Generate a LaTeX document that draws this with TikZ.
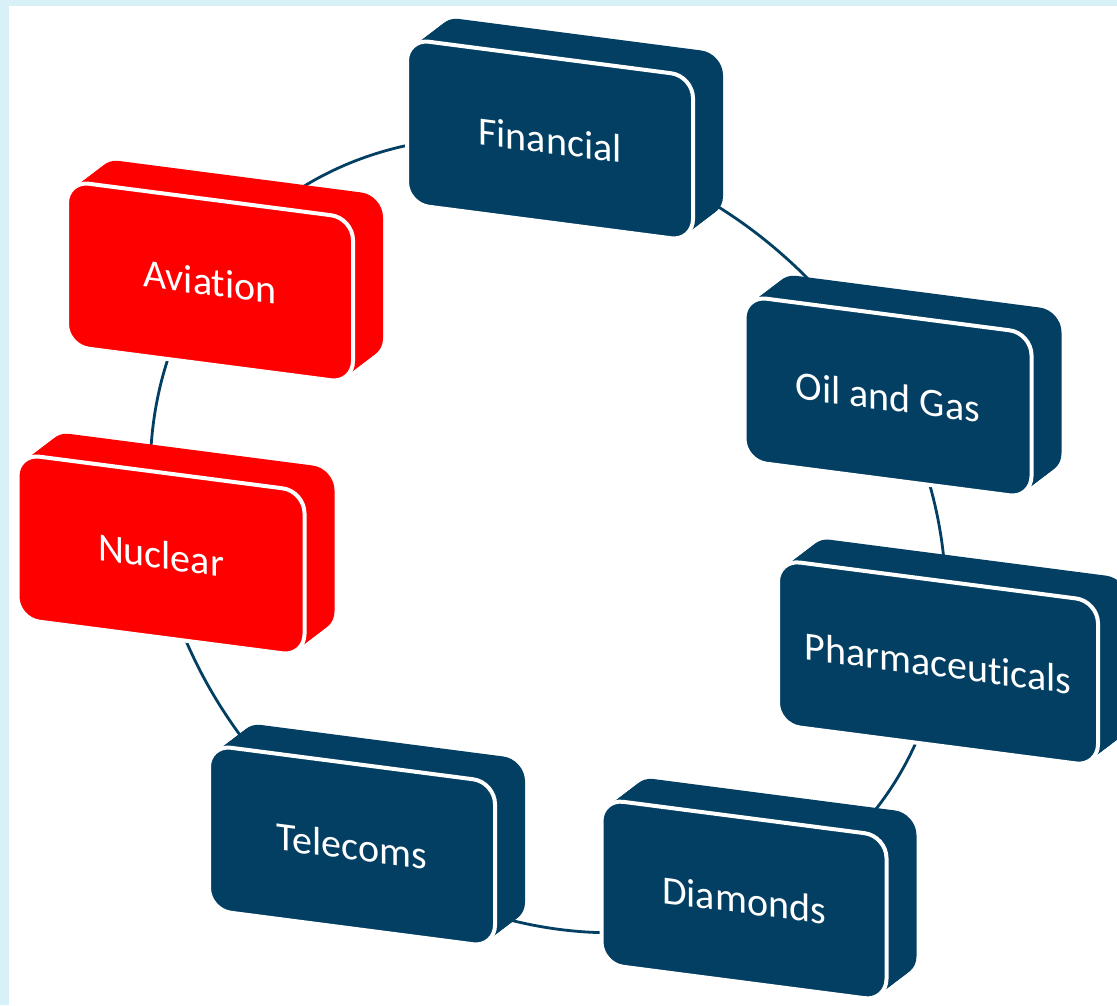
\documentclass[tikz,border=0pt]{standalone}
\usepackage{fontspec}
\setmainfont[Ligatures=NoCommon]{Carlito}
\definecolor{sectnavy}{RGB}{2,63,99}
\definecolor{sectred}{RGB}{255,0,0}
\definecolor{framesky}{RGB}{216,240,248}
\usetikzlibrary{positioning}

\begin{document}
\begin{tikzpicture}[x=1pt, y=-1pt,
    slab/.style={rectangle, rounded corners=22pt, inner sep=0pt, minimum height=165, yslant=-0.13},
    face/.style={slab, draw=white, line width=4pt, text=white, font=\fontsize{40}{48}\selectfont},
    ring/.style={draw=sectnavy, line width=2.8pt}]
    % Frame
    \useasboundingbox (0,0) rectangle (1117,1005);
    \fill[framesky] (0,0) rectangle (1117,1005);
    \fill[white] (9,6) rectangle (1117,1005);

    % Ring behind the sectors
    \coordinate (hub) at (548,535);
    \draw[ring, rotate around={-45:(hub)}] (hub) ellipse [x radius=428, y radius=365];

    % Sectors
    \foreach \id/\px/\py/\boxw/\col/\txt in {
        fin/550/140/286/sectnavy/Financial,
        avi/210/282/286/sectred/Aviation,
        nuc/161/555/287/sectred/Nuclear,
        oil/888/397/287/sectnavy/Oil and Gas,
        pha/938/663/320/sectnavy/Pharmaceuticals,
        tel/352/846/286/sectnavy/Telecoms,
        dia/744/900/285/sectnavy/Diamonds} {
        \foreach \k in {12,11,...,1}
            \node[xshift=2.5*\k, yshift=1.9*\k, slab, fill=\col, minimum width=\boxw] (\id-\k) at (\px,\py) {};
        \node[face, fill=\col, minimum width=\boxw] (\id) at (\px,\py) {\txt};
    }
\end{tikzpicture}
\end{document}
